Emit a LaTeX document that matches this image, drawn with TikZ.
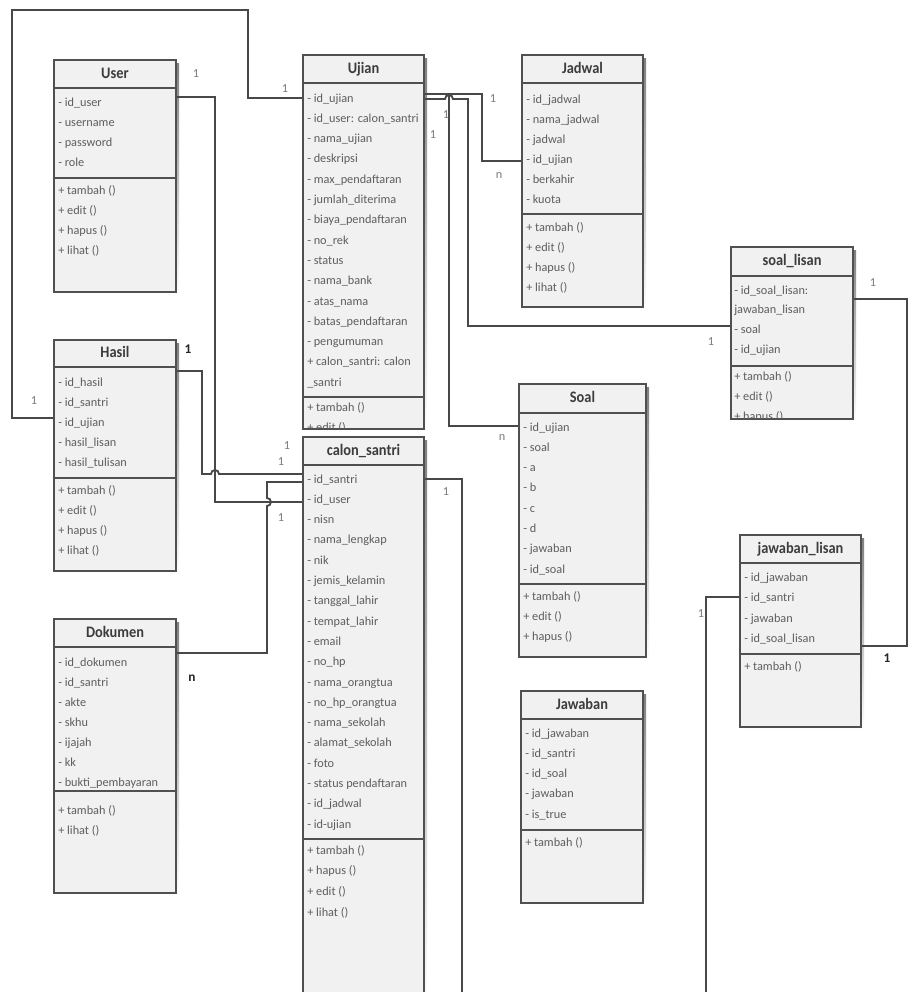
\documentclass[tikz,border=0pt]{standalone}
\usepackage{fontspec}
\setmainfont{Carlito}
\newfontfamily\titlefont{Carlito}[FakeStretch=0.9]
\usetikzlibrary{fit,calc}
\definecolor{boxfill}{HTML}{F1F1F1}
\definecolor{boxdraw}{HTML}{505050}
\definecolor{rowtext}{HTML}{5E5E5E}
\definecolor{titletext}{HTML}{3C3C3C}
\definecolor{wire}{HTML}{484848}
\definecolor{lbl}{HTML}{7A7A7A}
\definecolor{shade}{HTML}{DEDEDE}
\tikzset{
 boxst/.style={draw=boxdraw, fill=boxfill, line width=1.5pt, inner sep=0pt},
 divst/.style={draw=boxdraw, line width=1.5pt},
 titlest/.style={font=\titlefont\bfseries\fontsize{12}{14}\selectfont, text=titletext, inner sep=0pt, text height=1.6ex, text depth=0.3ex},
 rowst/.style={font=\fontsize{9.2}{11}\selectfont, text=rowtext, inner sep=0pt, anchor=base west},
 wirest/.style={draw=wire, line width=1.4pt},
 lblst/.style={font=\fontsize{9.2}{11}\selectfont, text=lbl, inner sep=0pt},
 lblb/.style={font=\bfseries\fontsize{10}{12}\selectfont, text=black!85, inner sep=0pt},
}
% name, x1, y1, x2, header bottom, divider, y2, title
\newcommand\umlbox[8]{%
 \fill[shade] (#2+3,#3+3) rectangle (#4+3,#7+3);
 \node[boxst, fit={(#2,#3)(#4,#7)}] (#1) {};
 \draw[divst] (#2,#5) -- (#4,#5);
 \draw[divst] (#2,#6) -- (#4,#6);
 \node[titlest] (#1-t) at ({(#2+#4)/2},{(#3+#5)/2}) {#8};
}
% prefix, x, first baseline, step, list
\newcommand\rowsin[5]{%
 \foreach \t [count=\i] in {#5} {\node[rowst] (#1\i) at (#2,{#3+(\i-1)*#4}) {\t};}
}
\begin{document}
\begin{tikzpicture}[x=0.75pt,y=-0.75pt]
\useasboundingbox (0,0) rectangle (909,992);
\clip (0,0) rectangle (909,992);
\fill[white] (0,0) rectangle (909,992);

% ---------- boxes ----------
\umlbox{user}{54}{60}{176}{88}{178}{292}{User}
\rowsin{user-a}{58}{106}{20.3}{- id\_user, - username, - password, - role}
\rowsin{user-m}{58}{194}{20}{+ tambah (), + edit (), + hapus (), + lihat ()}

\umlbox{ujian}{303}{55}{424}{83}{397}{429}{Ujian}
\begin{scope}
\clip (303,55) rectangle (424,428);
\rowsin{ujian-a}{307}{102}{20.3}{- id\_ujian, - id\_user: calon\_santri, - nama\_ujian, - deskripsi, - max\_pendaftaran, - jumlah\_diterima, - biaya\_pendaftaran, - no\_rek, - status, - nama\_bank, - atas\_nama, - batas\_pendaftaran, - pengumuman, + calon\_santri: calon, \_santri}
\rowsin{ujian-m}{307}{411}{20}{+ tambah (), + edit ()}
\end{scope}

\umlbox{jadwal}{522}{55}{643}{83}{214}{307}{Jadwal}
\rowsin{jadwal-a}{526}{103}{20}{- id\_jadwal, - nama\_jadwal, - jadwal, - id\_ujian, - berkahir, - kuota}
\rowsin{jadwal-m}{526}{231}{20}{+ tambah (), + edit (), + hapus (), + lihat ()}

\umlbox{soallisan}{731}{247}{853}{276}{366}{419}{soal\_lisan}
\begin{scope}
\clip (731,247) rectangle (853,418);
\rowsin{soallisan-a}{734}{294}{19.7}{- id\_soal\_lisan:, jawaban\_lisan, - soal, - id\_ujian}
\rowsin{soallisan-m}{734}{380}{20}{+ tambah (), + edit (), + hapus ()}
\end{scope}

\umlbox{hasil}{54}{340}{176}{367}{478}{571}{Hasil}
\rowsin{hasil-a}{58}{386}{20.2}{- id\_hasil, - id\_santri, - id\_ujian, - hasil\_lisan, - hasil\_tulisan}
\rowsin{hasil-m}{58}{494}{20}{+ tambah (), + edit (), + hapus (), + lihat ()}

\umlbox{dokumen}{54}{619}{176}{647}{791}{893}{Dokumen}
\rowsin{dokumen-a}{58}{666}{20.1}{- id\_dokumen, - id\_santri, - akte, - skhu, - ijajah, - kk, - bukti\_pembayaran}
\rowsin{dokumen-m}{58}{814}{20}{+ tambah (), + lihat ()}

\umlbox{calon}{303}{437}{424}{465}{839}{1010}{calon\_santri}
\rowsin{calon-a}{307}{483}{20.3}{- id\_santri, - id\_user, - nisn, - nama\_lengkap, - nik, - jemis\_kelamin, - tanggal\_lahir, - tempat\_lahir, - email, - no\_hp, - nama\_orangtua, - no\_hp\_orangtua, - nama\_sekolah, - alamat\_sekolah, - foto, - status pendaftaran, - id\_jadwal, - id-ujian}
\rowsin{calon-m}{307}{854}{20.7}{+ tambah (), + hapus (), + edit (), + lihat ()}

\umlbox{soal}{519}{384}{646}{413}{584}{657}{Soal}
\rowsin{soal-a}{523}{431}{20.3}{- id\_ujian, - soal, - a, - b, - c, - d, - jawaban, - id\_soal}
\rowsin{soal-m}{523}{600}{20}{+ tambah (), + edit (), + hapus ()}

\umlbox{jawaban}{521}{691}{643}{719}{830}{903}{Jawaban}
\rowsin{jawaban-a}{525}{737}{20.3}{- id\_jawaban, - id\_santri, - id\_soal, - jawaban, - is\_true}
\rowsin{jawaban-m}{525}{846}{20}{+ tambah ()}

\umlbox{jawlisan}{740}{535}{861}{563}{654}{727}{jawaban\_lisan}
\rowsin{jawlisan-a}{744}{581}{20.5}{- id\_jawaban, - id\_santri, - jawaban, - id\_soal\_lisan}
\rowsin{jawlisan-m}{744}{670}{20}{+ tambah ()}

% ---------- connectors ----------
\coordinate (c1) at (248,98); \coordinate (c2) at (248,10);
\coordinate (c3) at (12,10);  \coordinate (c4) at (12,418);
\draw[wirest] (ujian.west |- c1) -- (c1) -- (c2) -- (c3) -- (c4) -- (hasil.west |- c4);

\coordinate (u1) at (215,97); \coordinate (u2) at (215,502);
\draw[wirest] (user.east |- u1) -- (u1) -- (u2) -- (calon.west |- u2);

\coordinate (h1) at (202,371); \coordinate (h2) at (202,474); \coordinate (h3) at (211,474);
\draw[wirest] (hasil.east |- h1) -- (h1) -- (h2) -- (h3) arc[start angle=180, end angle=0, radius=3pt] -- (calon.west |- h2);

\coordinate (d1) at (267,653); \coordinate (d2) at (267,506); \coordinate (d3) at (267,482);
\draw[wirest] (dokumen.east |- d1) -- (d1) -- (d2) arc[start angle=-90, end angle=90, radius=3pt] -- (d3) -- (calon.west |- d3);

\coordinate (j1) at (482,94); \coordinate (j2) at (482,161);
\draw[wirest] (ujian.east |- j1) -- (j1) -- (j2) -- (jadwal.west |- j2);

\coordinate (s1) at (449,94); \coordinate (s2) at (449,426);
\draw[wirest] (ujian.east |- s1) -- (s1) -- (s2) -- (soal.west |- s2);

\coordinate (l0) at (445,99); \coordinate (l1) at (468,99); \coordinate (l2) at (468,326);
\draw[wirest] (ujian.east |- l0) -- (l0) arc[start angle=180, end angle=0, radius=3pt] -- (l1) -- (l2) -- (soallisan.west |- l2);

\coordinate (k1) at (462,479); \coordinate (k2) at (462,1002);
\draw[wirest] (calon.east |- k1) -- (k1) -- (k2);

\coordinate (m1) at (706,597); \coordinate (m2) at (706,1002);
\draw[wirest] (jawlisan.west |- m1) -- (m1) -- (m2);

\coordinate (r1) at (907,299); \coordinate (r2) at (907,646);
\draw[wirest] (soallisan.east |- r1) -- (r1) -- (r2) -- (jawlisan.east |- r2);

% ---------- multiplicities ----------
\node[lblst] (t1) at (196,74) {1};
\node[lblst] (t2) at (285,89) {1};
\node[lblst] (t3) at (34,401) {1};
\node[lblb]  (t4) at (188,349) {1};
\node[lblst] (t5) at (287,446) {1};
\node[lblst] (t6) at (281,462) {1};
\node[lblst] (t7) at (281,518) {1};
\node[lblb]  (t8) at (192,678) {n};
\node[lblst] (t9) at (446,115) {1};
\node[lblst] (t10) at (433,135) {1};
\node[lblst] (t11) at (493,99) {1};
\node[lblst] (t12) at (499,176) {n};
\node[lblst] (t13) at (502,438) {n};
\node[lblst] (t14) at (446,492) {1};
\node[lblst] (t15) at (711,342) {1};
\node[lblst] (t16) at (873,283) {1};
\node[lblst] (t17) at (701,614) {1};
\node[lblb]  (t18) at (887,658) {1};
\end{tikzpicture}
\end{document}
